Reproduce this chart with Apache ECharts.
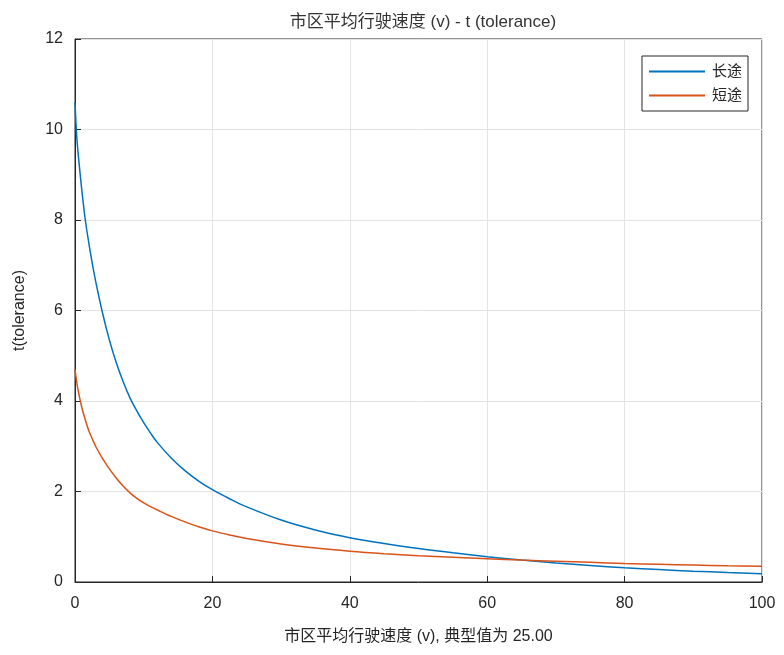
<!DOCTYPE html>
<html>
<head>
<meta charset="utf-8">
<script src="https://cdn.jsdelivr.net/npm/echarts@6/dist/echarts.min.js"></script>
<style>
  html, body { margin: 0; padding: 0; background: #fff; }
  #main { width: 784px; height: 655px; }
</style>
</head>
<body>
<div id="main"></div>
<script>
// 市区平均行驶速度 v
var speedV = [0, 0.25, 0.5, 1, 1.5, 2, 2.5, 3, 4, 5, 6, 7, 8, 9, 10, 11, 12, 14, 16, 18, 20, 22.5, 25, 30, 35, 40, 45, 50, 55, 60, 65, 70, 75, 80, 85, 90, 95, 100]
// 长途
var longTrip = [10.6, 9.85, 9.4, 8.65, 8.0, 7.5, 7.05, 6.65, 5.95, 5.35, 4.85, 4.43, 4.07, 3.78, 3.52, 3.29, 3.08, 2.74, 2.46, 2.23, 2.04, 1.84, 1.66, 1.37, 1.15, 0.98, 0.85, 0.74, 0.645, 0.56, 0.485, 0.42, 0.365, 0.315, 0.275, 0.24, 0.21, 0.185]
// 短途
var shortTrip = [4.7, 4.42, 4.2, 3.85, 3.58, 3.35, 3.17, 3.0, 2.73, 2.5, 2.3, 2.12, 1.97, 1.85, 1.75, 1.665, 1.59, 1.45, 1.33, 1.22, 1.13, 1.04, 0.96, 0.84, 0.75, 0.68, 0.625, 0.58, 0.545, 0.515, 0.485, 0.46, 0.435, 0.41, 0.39, 0.375, 0.36, 0.35]
var xTicks = [0, 20, 40, 60, 80, 100]
var yTicks = [0, 2, 4, 6, 8, 10, 12]

var font = '"Liberation Sans", Arial, "Noto Sans CJK SC", sans-serif'
var ink = '#262626'

function pairs(ys) {
  return speedV.map(function(v, i) { return [v, ys[i]] })
}

var myChart = echarts.init(document.getElementById('main'))
var option = {
  backgroundColor: '#fff',
  animation: false,
  title: {
    text: '市区平均行驶速度 (v) - t (tolerance)',
    left: 418,
    textAlign: 'center',
    top: 9,
    textStyle: { fontFamily: font, fontSize: 17, fontWeight: 'normal', color: '#333' }
  },
  grid: {
    left: 75,
    right: 22,
    top: 39,
    bottom: 73,
    show: true,
    borderColor: ink,
    borderWidth: 1,
    backgroundColor: 'transparent'
  },
  legend: {
    orient: 'vertical',
    right: 36,
    top: 56,
    padding: [8, 6, 8, 7],
    itemGap: 9,
    itemWidth: 56,
    itemHeight: 2,
    icon: 'rect',
    borderColor: ink,
    borderWidth: 1,
    borderRadius: 0,
    backgroundColor: '#fff',
    textStyle: { fontFamily: font, fontSize: 15, color: ink, padding: [0, 0, 0, 2] },
    data: ['长途', '短途']
  },
  xAxis: {
    type: 'value',
    min: 0,
    max: 100,
    interval: 20,
    name: '市区平均行驶速度 (v), 典型值为 25.00',
    nameLocation: 'middle',
    nameGap: 47,
    nameTextStyle: { fontFamily: font, fontSize: 16, color: ink },
    axisLine: { lineStyle: { color: ink, width: 1 } },
    axisTick: { inside: true, length: 6, lineStyle: { color: ink } },
    axisLabel: {
      margin: 14,
      fontFamily: font, fontSize: 16, color: ink,
      formatter: function(v) { return xTicks.indexOf(v) >= 0 ? String(v) : '' }
    },
    splitLine: { show: true, lineStyle: { color: '#e3e3e3', width: 1 } }
  },
  yAxis: {
    type: 'value',
    min: 0,
    max: 12,
    interval: 2,
    name: 't(tolerance)',
    nameLocation: 'middle',
    nameGap: 47,
    nameTextStyle: { fontFamily: font, fontSize: 16, color: ink },
    axisLine: { show: true, lineStyle: { color: ink, width: 1 } },
    axisTick: { show: true, inside: true, length: 6, lineStyle: { color: ink } },
    axisLabel: {
      margin: 12,
      fontFamily: font, fontSize: 16, color: ink,
      formatter: function(v) { return yTicks.indexOf(v) >= 0 ? String(v) : '' }
    },
    splitLine: { show: true, lineStyle: { color: '#e3e3e3', width: 1 } }
  },
  series: [
    {
      name: '长途',
      type: 'line',
      smooth: 0.35,
      symbol: 'none',
      color: '#0072BD',
      lineStyle: { width: 1.5 },
      data: pairs(longTrip)
    },
    {
      name: '短途',
      type: 'line',
      smooth: 0.35,
      symbol: 'none',
      color: '#D95319',
      lineStyle: { width: 1.5 },
      data: pairs(shortTrip)
    }
  ]
}
option && myChart.setOption(option)
</script>
</body>
</html>
